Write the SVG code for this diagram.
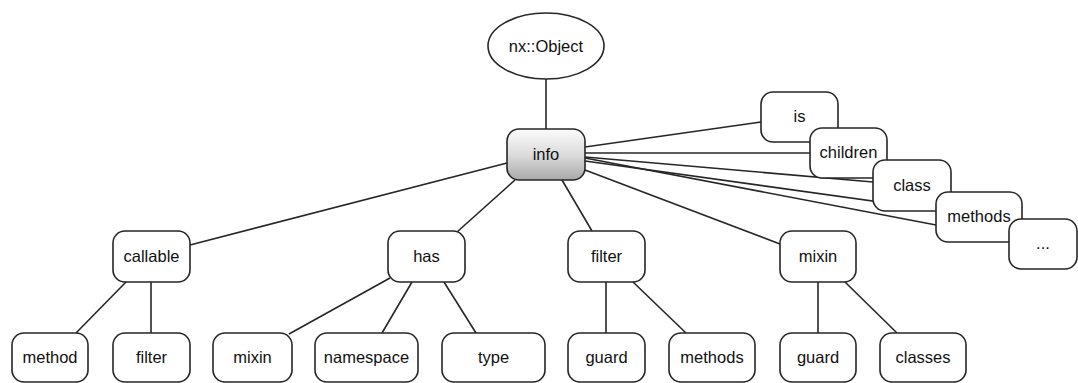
<svg xmlns="http://www.w3.org/2000/svg" width="1078" height="383" viewBox="0 0 1078 383">
<defs>
<linearGradient id="g" x1="0" y1="0" x2="0" y2="1">
<stop offset="0" stop-color="#fbfbfb"/>
<stop offset="0.5" stop-color="#dcdcdc"/>
<stop offset="1" stop-color="#a9a9a9"/>
</linearGradient>
<style>
.n{fill:#fff;stroke:#262626;stroke-width:1.6}
.t{font-family:"Liberation Sans",Arial,sans-serif;font-size:16.5px;fill:#111;text-anchor:middle}
.c line{stroke:#262626;stroke-width:1.6}
</style>
</defs>
<rect width="1078" height="383" fill="#fff"/>
<g class="c" id="connectors">
<line x1="546" y1="79" x2="546" y2="129"/>
<line x1="585" y1="147" x2="761" y2="122"/>
<line x1="585" y1="153" x2="810" y2="153"/>
<line x1="585" y1="157" x2="873" y2="182"/>
<line x1="585" y1="161" x2="1009" y2="220"/>
<line x1="585" y1="158" x2="936" y2="225"/>
<line x1="507" y1="163" x2="190" y2="245"/>
<line x1="515" y1="180" x2="457" y2="232"/>
<line x1="562" y1="180" x2="592" y2="231"/>
<line x1="585" y1="170" x2="780" y2="244"/>
<line x1="126" y1="282" x2="76" y2="333"/>
<line x1="151" y1="282" x2="151" y2="333"/>
<line x1="390" y1="278" x2="289" y2="334"/>
<line x1="412" y1="282" x2="382" y2="333"/>
<line x1="444" y1="282" x2="476" y2="333"/>
<line x1="606" y1="282" x2="606" y2="333"/>
<line x1="633" y1="282" x2="686" y2="333"/>
<line x1="818" y1="282" x2="818" y2="333"/>
<line x1="845" y1="282" x2="897" y2="333"/>
</g>
<g id="nxobject"><ellipse class="n" cx="546" cy="46" rx="58" ry="33"/><text class="t" x="546" y="52">nx::Object</text></g>
<g id="info"><rect x="507" y="129" width="78" height="51" rx="12" fill="url(#g)" stroke="#262626" stroke-width="1.6"/><text class="t" x="546" y="160">info</text></g>
<g id="is"><rect class="n" x="761" y="92" width="77" height="50" rx="12"/><text class="t" x="799.5" y="122">is</text></g>
<g id="children"><rect class="n" x="810" y="128" width="77" height="50" rx="12"/><text class="t" x="848.5" y="158">children</text></g>
<g id="class"><rect class="n" x="873" y="160" width="78" height="51" rx="12"/><text class="t" x="912" y="191">class</text></g>
<g id="methods-top"><rect class="n" x="936" y="192" width="86" height="50" rx="12"/><text class="t" x="979" y="222">methods</text></g>
<g id="more"><rect class="n" x="1009" y="219" width="68" height="50" rx="12"/><text class="t" x="1043" y="249">...</text></g>
<g id="callable"><rect class="n" x="113" y="231" width="77" height="51" rx="12"/><text class="t" x="151.5" y="262">callable</text></g>
<g id="has"><rect class="n" x="388" y="231" width="77" height="51" rx="12"/><text class="t" x="426.5" y="262">has</text></g>
<g id="filter-mid"><rect class="n" x="568" y="231" width="77" height="51" rx="12"/><text class="t" x="606.5" y="262">filter</text></g>
<g id="mixin-mid"><rect class="n" x="780" y="231" width="76" height="51" rx="12"/><text class="t" x="818" y="262">mixin</text></g>
<g id="method"><rect class="n" x="12" y="333" width="76" height="49" rx="12"/><text class="t" x="50" y="363">method</text></g>
<g id="filter-bot"><rect class="n" x="113" y="333" width="77" height="49" rx="12"/><text class="t" x="151.5" y="363">filter</text></g>
<g id="mixin-bot"><rect class="n" x="213" y="333" width="79" height="49" rx="12"/><text class="t" x="252.5" y="363">mixin</text></g>
<g id="namespace"><rect class="n" x="315" y="333" width="103" height="49" rx="12"/><text class="t" x="366.5" y="363">namespace</text></g>
<g id="type"><rect class="n" x="442" y="333" width="103" height="49" rx="12"/><text class="t" x="493.5" y="363">type</text></g>
<g id="guard1"><rect class="n" x="568" y="333" width="77" height="49" rx="12"/><text class="t" x="606.5" y="363">guard</text></g>
<g id="methods-bot"><rect class="n" x="669" y="333" width="86" height="49" rx="12"/><text class="t" x="712" y="363">methods</text></g>
<g id="guard2"><rect class="n" x="780" y="333" width="76" height="49" rx="12"/><text class="t" x="818" y="363">guard</text></g>
<g id="classes"><rect class="n" x="880" y="333" width="86" height="49" rx="12"/><text class="t" x="923" y="363">classes</text></g>
</svg>
